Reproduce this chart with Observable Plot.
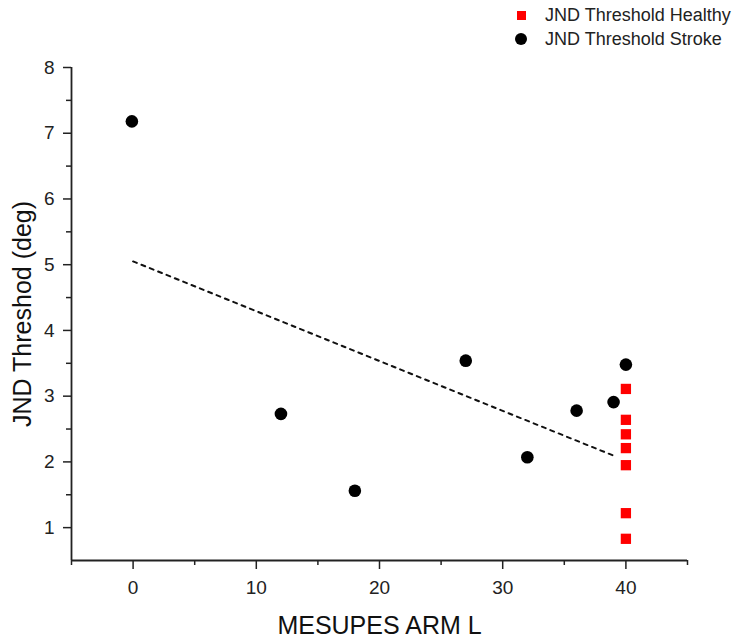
<!DOCTYPE html>
<html>
<head>
<meta charset="utf-8">
<script src="https://cdn.jsdelivr.net/npm/d3@7"></script>
<script src="https://cdn.jsdelivr.net/npm/@observablehq/plot@0.6"></script>
<style>
  html, body { margin: 0; padding: 0; background: #fff; }
  #wrap { position: relative; width: 742px; height: 641px; font-family: "Liberation Sans", Arial, sans-serif; }
  #legend { position: absolute; left: 511px; top: 4px; font-size: 18px; color: #222; }
  .row { display: flex; align-items: center; height: 23.5px; }
  .sym { width: 20px; display: flex; justify-content: center; margin-right: 14px; }
  .sq { width: 9px; height: 9px; background: #ff0000; }
  .ci { width: 12px; height: 12px; border-radius: 50%; background: #000; }
</style>
</head>
<body>
<div id="wrap">
  <div id="chart"></div>
  <div id="legend">
    <div class="row"><div class="sym"><div class="sq"></div></div><span>JND Threshold Healthy</span></div>
    <div class="row"><div class="sym"><div class="ci"></div></div><span>JND Threshold Stroke</span></div>
  </div>
</div>
<script>
// Stroke group
const strokeX = [-0.1, 12, 18, 27, 32, 36, 39, 40];
const strokeY = [7.18, 2.73, 1.56, 3.54, 2.07, 2.78, 2.91, 3.48];
// Healthy group
const healthyX = [40, 40, 40, 40, 40, 40, 40];
const healthyY = [3.11, 2.64, 2.42, 2.21, 1.95, 1.22, 0.83];
// Dashed fit line endpoints
const fitX = [0, 39.2];
const fitY = [5.05, 2.08];
// Ticks
const xMajor = [0, 10, 20, 30, 40];
const xMinor = [-5, 5, 15, 25, 35, 45];
const yMajor = [1, 2, 3, 4, 5, 6, 7, 8];
const yMinor = [1.5, 2.5, 3.5, 4.5, 5.5, 6.5, 7.5];
const xTitle = "MESUPES ARM L";
const yTitle = "JND Threshod (deg)";

const stroke = strokeX.map((x, i) => ({x, y: strokeY[i]}));
const healthy = healthyX.map((x, i) => ({x, y: healthyY[i]}));
const fit = fitX.map((x, i) => ({x, y: fitY[i]}));

const chart = Plot.plot({
  width: 742,
  height: 641,
  marginLeft: 71,
  marginRight: 55,
  marginTop: 67,
  marginBottom: 81,
  style: {fontFamily: "'Liberation Sans', Arial, sans-serif", color: "#222", background: "#fff"},
  x: {domain: [-5, 45]},
  y: {domain: [0.5, 8]},
  marks: [
    Plot.axisX({ticks: xMajor, tickSize: 9, tickPadding: 11, fontSize: 19, label: null, stroke: "#222", strokeWidth: 1.5, strokeOpacity: 1}),
    Plot.axisX({ticks: xMinor, tickSize: 5, text: null, label: null, stroke: "#222", strokeWidth: 1.5, strokeOpacity: 1}),
    Plot.axisY({ticks: yMajor, tickSize: 8, tickPadding: 9, fontSize: 19, label: null, stroke: "#222", strokeWidth: 1.5, strokeOpacity: 1}),
    Plot.axisY({ticks: yMinor, tickSize: 5, text: null, label: null, stroke: "#222", strokeWidth: 1.5, strokeOpacity: 1}),
    Plot.ruleY([0.5], {stroke: "#222", strokeWidth: 1.8}),
    Plot.ruleX([-5], {stroke: "#222", strokeWidth: 1.8}),
    Plot.line(fit, {x: "x", y: "y", stroke: "#111", strokeWidth: 2, strokeDasharray: "4,5"}),
    Plot.dot(stroke, {x: "x", y: "y", r: 6.3, fill: "#000", stroke: null}),
    Plot.dot(healthy, {x: "x", y: "y", r: 5.8, symbol: "square", fill: "#ff0000", stroke: null}),
    Plot.text([xTitle], {frameAnchor: "bottom", dy: 73, lineAnchor: "bottom", textAnchor: "middle", fontSize: 25, fill: "#111"}),
    Plot.text([yTitle], {frameAnchor: "left", dx: -41, rotate: -90, lineAnchor: "bottom", textAnchor: "middle", fontSize: 25, fill: "#111"})
  ]
});
document.getElementById("chart").appendChild(chart);
</script>
</body>
</html>
